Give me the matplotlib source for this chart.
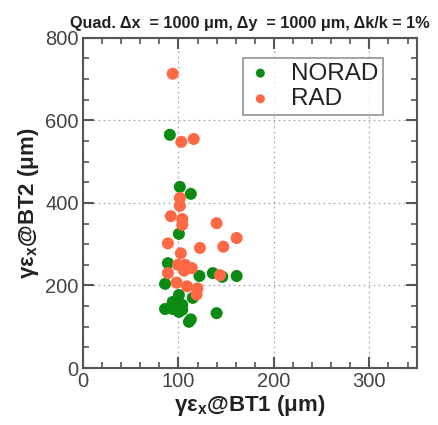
import matplotlib
matplotlib.use("Agg")
import matplotlib.pyplot as plt
from matplotlib.ticker import MultipleLocator

plt.rcParams['font.family'] = ['Liberation Sans', 'DejaVu Sans']
plt.rcParams['mathtext.fontset'] = 'custom'
plt.rcParams['mathtext.rm'] = 'Liberation Sans:bold'
plt.rcParams['mathtext.bf'] = 'Liberation Sans:bold'
plt.rcParams['mathtext.it'] = 'Liberation Sans:bold'

title = "Quad. Δx  = 1000 μm, Δy  = 1000 μm, Δk/k = 1%"
xlabel = r"γε$_{\mathrm{x}}$@BT1 (μm)"
ylabel = r"γε$_{\mathrm{x}}$@BT2 (μm)"

norad_x = [91, 101.5, 113, 100.5, 89, 86, 122, 136, 146, 161, 115, 100.5, 94, 104,
           86, 94, 104, 100.5, 140, 113, 111]
norad_y = [565, 439, 422, 325, 254, 204, 223, 230, 221, 223, 170, 177, 160, 153,
           143, 143, 141, 136, 133, 118, 112]

rad_x = [94, 103, 116, 101.5, 101.5, 92, 104, 104, 140, 89, 102.5, 122.5, 147, 161,
         99.5, 107, 106, 114, 89, 143.5, 98, 109, 120, 119]
rad_y = [713, 548, 555, 412, 393, 368, 361, 347, 351, 302, 278, 291, 294, 315,
         250, 250, 236, 242, 230, 225, 207, 198, 193, 178]

green = '#0b8a14'
orange = '#ff6844'
axcol = '#555555'

fig = plt.figure(figsize=(4.39, 4.25), dpi=100)
ax = fig.add_axes([0.189, 0.134, 0.761, 0.777])

ax.scatter(norad_x, norad_y, s=75, color=green, edgecolors='none', label='NORAD', zorder=3)
ax.scatter(rad_x, rad_y, s=75, color=orange, edgecolors='none', label='RAD', zorder=3)

ax.set_xlim(0, 350)
ax.set_ylim(0, 800)
ax.xaxis.set_major_locator(MultipleLocator(100))
ax.xaxis.set_minor_locator(MultipleLocator(20))
ax.yaxis.set_major_locator(MultipleLocator(200))
ax.yaxis.set_minor_locator(MultipleLocator(50))

ax.grid(True, which='major', linestyle=(0, (1.5, 2.5)), color='#aaaaaa', linewidth=0.9)
ax.set_axisbelow(True)

for sp in ax.spines.values():
    sp.set_color(axcol)
    sp.set_linewidth(1.5)

ax.tick_params(which='both', direction='in', top=True, right=True, colors=axcol,
               labelcolor='#444444', labelsize=14.5)
ax.tick_params(which='major', length=8, width=1.5, pad=3)
ax.tick_params(which='minor', length=4, width=1.2)

ax.set_xlabel(xlabel, fontsize=16, fontweight='bold', color='#222222', labelpad=1)
ax.set_ylabel(ylabel, fontsize=16, fontweight='bold', color='#222222', labelpad=3)
ax.set_title(title, fontsize=11.7, fontweight='bold', color='#222222', pad=7)

leg = ax.legend(loc='upper left', bbox_to_anchor=(0.48, 0.94), fontsize=17.5,
                frameon=True, fancybox=False, edgecolor='#777777',
                markerscale=0.75, handletextpad=0.75, borderpad=0.2,
                labelspacing=0.15, handlelength=1.0, borderaxespad=0)
leg.get_frame().set_linewidth(1.2)
for t in leg.get_texts():
    t.set_color('#222222')

fig.savefig('out.png', dpi=100)
